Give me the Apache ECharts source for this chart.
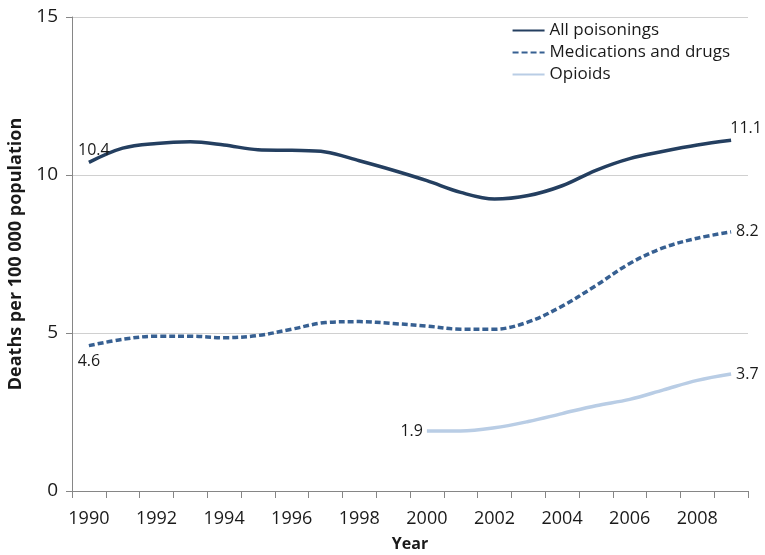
<!DOCTYPE html>
<html><head><meta charset="utf-8">
<script src="https://cdn.jsdelivr.net/npm/echarts@6/dist/echarts.min.js"></script>
<style>html,body{margin:0;padding:0;background:#fff}#c{width:765px;height:555px}</style>
</head><body><div id="c"></div>
<script>
const years = ['1990','1991','1992','1993','1994','1995','1996','1997','1998','1999','2000','2001','2002','2003','2004','2005','2006','2007','2008','2009'];
const allPoisonings = [10.4,10.85,11.0,11.05,10.95,10.8,10.78,10.73,10.45,10.15,9.82,9.45,9.24,9.35,9.66,10.15,10.52,10.75,10.95,11.1];
const medications = [4.6,4.8,4.9,4.9,4.85,4.92,5.12,5.33,5.36,5.3,5.22,5.12,5.12,5.35,5.85,6.5,7.2,7.7,8.0,8.2];
const opioids = [null,null,null,null,null,null,null,null,null,null,1.9,1.9,2.0,2.2,2.45,2.7,2.9,3.2,3.5,3.7];
const yTicks = [0,5,10,15];

const font = '"Open Sans", "Liberation Sans", sans-serif';
function withLabels(arr, firstPos, firstOffset, lastPos, lastOffset) {
  let firstIdx = arr.findIndex(v => v !== null);
  let lastIdx = arr.length - 1;
  const pt = (v, pos, off) => ({value: v,
    label: {show: true, position: pos, offset: off, distance: 4, color: '#1a1a1a', fontSize: 16, fontFamily: font,
            formatter: p => p.value.toFixed(1)}});
  return arr.map((v, i) => {
    if (i === firstIdx) return pt(v, firstPos, firstOffset);
    if (i === lastIdx) return pt(v, lastPos, lastOffset);
    return v;
  });
}
const common = {type: 'line', smooth: 0.35, symbol: 'circle', symbolSize: 0, showSymbol: true};
const chart = echarts.init(document.getElementById('c'));
chart.setOption({
  animation: false,
  grid: {left: 72, right: 17, top: 17, bottom: 64, outerBoundsMode: 'none', containLabel: false},
  legend: {
    orient: 'vertical', right: 30, top: 17, itemGap: 5, itemWidth: 32, itemHeight: 17,
    itemStyle: {opacity: 0},
    textStyle: {fontSize: 17, fontFamily: font, color: '#1a1a1a'},
    data: ['All poisonings', 'Medications and drugs', 'Opioids']
  },
  xAxis: {
    type: 'category', data: years, boundaryGap: true,
    name: 'Year', nameLocation: 'middle', nameGap: 45,
    nameTextStyle: {fontWeight: 'bold', fontSize: 16, fontFamily: font, color: '#1a1a1a'},
    axisLine: {lineStyle: {color: '#868686'}},
    axisTick: {show: true, interval: 0, length: 7, lineStyle: {color: '#868686'}},
    axisLabel: {interval: 1, fontSize: 18, fontFamily: font, color: '#1a1a1a', margin: 19}
  },
  yAxis: {
    type: 'value', min: yTicks[0], max: yTicks[yTicks.length-1], interval: 5,
    name: 'Deaths per 100 000 population', nameLocation: 'middle', nameGap: 33,
    nameTextStyle: {fontWeight: 'bold', fontSize: 18, fontFamily: font, color: '#1a1a1a'},
    axisLine: {show: true, lineStyle: {color: '#868686'}},
    axisTick: {show: true, length: 6, lineStyle: {color: '#868686'}},
    axisLabel: {fontSize: 19, fontFamily: font, color: '#1a1a1a', margin: 14},
    splitLine: {lineStyle: {color: '#d0d0d0'}}
  },
  series: [
    Object.assign({name: 'All poisonings',
     lineStyle: {color: '#243f60', width: 3.5}, itemStyle: {color: '#243f60'},
     data: withLabels(allPoisonings, 'top', [5, 0], 'top', [15, 0])}, common),
    Object.assign({name: 'Medications and drugs',
     lineStyle: {color: '#376092', width: 3.5, type: [6, 3]}, itemStyle: {color: '#376092'},
     data: withLabels(medications, 'bottom', [0, 4], 'right', [1, 0])}, common),
    Object.assign({name: 'Opioids',
     lineStyle: {color: '#b9cde5', width: 3.5}, itemStyle: {color: '#b9cde5'},
     data: withLabels(opioids, 'left', [0, 0], 'right', [1, 0])}, common)
  ]
});
</script></body></html>
